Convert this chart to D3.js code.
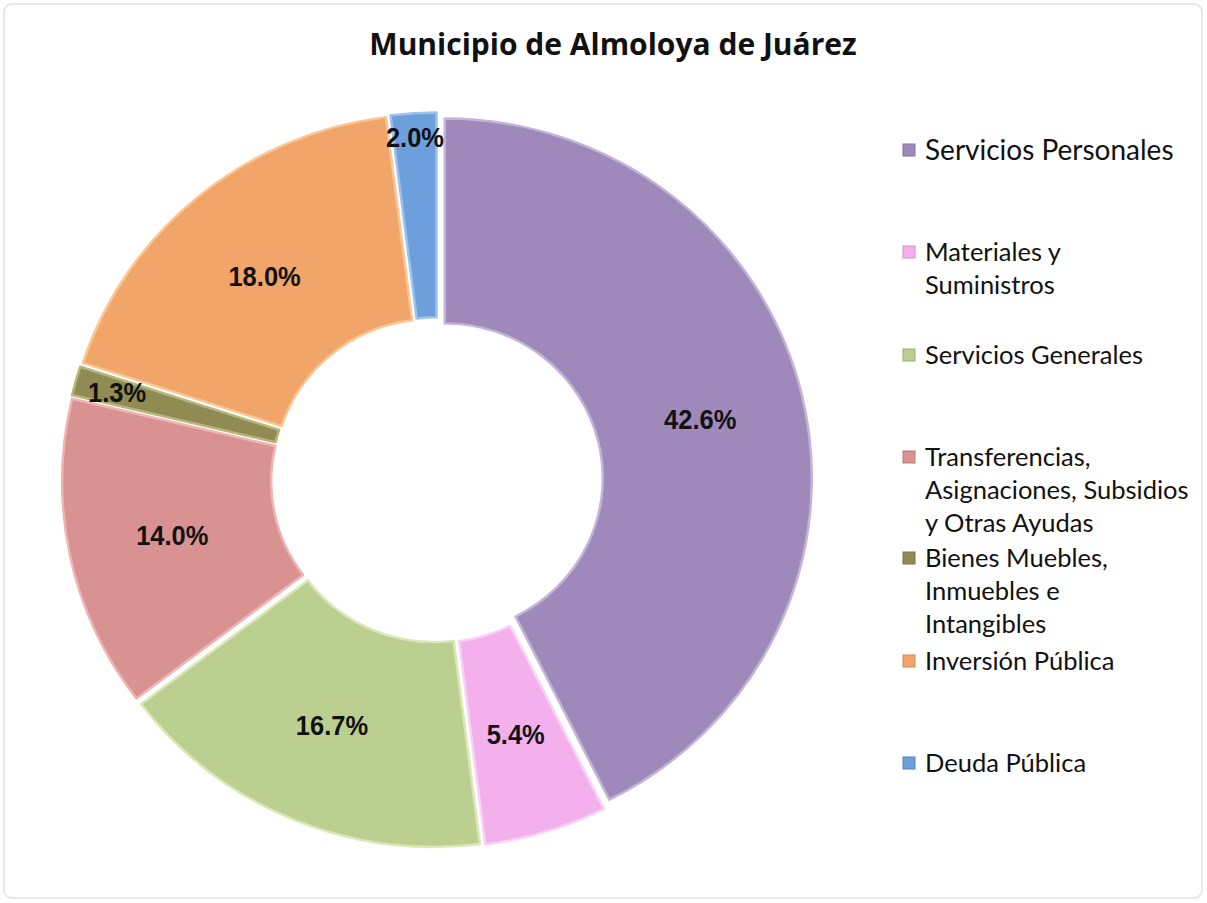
<!DOCTYPE html>
<html><head><meta charset="utf-8">
<script src="https://cdn.jsdelivr.net/npm/d3@7"></script>
<style>body{margin:0;background:#fff;}svg{display:block;}</style>
</head><body>
<svg id="chart" width="1207" height="903"></svg>
<script>
const categories = ["Servicios Personales","Materiales y Suministros","Servicios Generales","Transferencias, Asignaciones, Subsidios y Otras Ayudas","Bienes Muebles, Inmuebles e Intangibles","Inversión Pública","Deuda Pública"];
const legendLines = [["Servicios Personales"],["Materiales y","Suministros"],["Servicios Generales"],["Transferencias,","Asignaciones, Subsidios","y Otras Ayudas"],["Bienes Muebles,","Inmuebles e","Intangibles"],["Inversión Pública"],["Deuda Pública"]];
const values = [42.6, 5.4, 16.7, 14.0, 1.3, 18.0, 2.0];
const colors = ["#9f88ba","#f3b0ec","#bbcf90","#d89292","#8f8b52","#f1a569","#6c9fdb"];
const strokes = ["#c4b3d9","#fad0f5","#d9e8b5","#f0b4b4","#b8b47a","#fcc693","#9cc2ee"];
const title = "Municipio de Almoloya de Juárez";

const svg = d3.select("#chart");
svg.append("rect").attr("x",4).attr("y",4).attr("width",1198).attr("height",894).attr("rx",8)
  .attr("fill","#fff").attr("stroke","#e2e2e2").attr("stroke-width",1.5);

svg.append("text").attr("x",613).attr("y",55).attr("text-anchor","middle")
  .attr("font-family","Open Sans, sans-serif").attr("font-weight","bold").attr("font-size",30)
  .attr("fill","#111").text(title);

const cx = 437, cy = 480, R = 367, r = 158, explode = 8, sy = 0.98;
const pie = d3.pie().sort(null).value(d=>d);
const arcs = pie(values);
const arc = d3.arc().innerRadius(r).outerRadius(R);
const labelArc = d3.arc().innerRadius((R+r)/2).outerRadius((R+r)/2);

const g = svg.append("g").attr("transform",`translate(${cx},${cy})`);
const off = a => { const m=(a.startAngle+a.endAngle)/2; return [explode*Math.sin(m), -explode*Math.cos(m)]; };

g.append("g").attr("transform",`scale(1,${sy})`)
  .selectAll("path.slice").data(arcs).join("path").attr("class","slice")
  .attr("transform",d=>{const o=off(d);return `translate(${o[0]},${o[1]})`;})
  .attr("d",arc).attr("fill",(d,i)=>colors[i]).attr("stroke",(d,i)=>strokes[i]).attr("stroke-width",2.5)
  .attr("stroke-linejoin","round");

const fs = 25.5;
g.selectAll("text.lbl").data(arcs).join("text").attr("class","lbl")
  .attr("text-anchor","middle").attr("dy","0.36em")
  .attr("font-family","Liberation Sans, Arial, sans-serif").attr("font-weight","bold").attr("font-size",fs)
  .attr("fill","#111").text(d=>d.data.toFixed(1)+"%")
  .each(function(d){
    const o = off(d), m = (d.startAngle+d.endAngle)/2;
    let c;
    if (d.data < 3) {
      const w = this.getComputedTextLength(), h = fs*0.8;
      const ext = Math.abs(Math.sin(m))*w/2 + Math.abs(Math.cos(m))*h/2;
      const rr = R - 12 - ext;
      c = [rr*Math.sin(m), -rr*Math.cos(m)];
    } else c = labelArc.centroid(d);
    d3.select(this).attr("transform",`translate(${c[0]+o[0]},${(c[1]+o[1])*sy}) scale(1,1.12)`);
  });

const legendY = [150,252,355,457,558,661,763];
const lg = svg.append("g");
legendLines.forEach((lines,i)=>{
  const y = legendY[i];
  lg.append("rect").attr("x",903).attr("y",y-6).attr("width",12).attr("height",12)
    .attr("fill",colors[i]).attr("stroke",d3.color(colors[i]).darker(0.5)).attr("stroke-width",1);
  lines.forEach((t,j)=>{
    lg.append("text").attr("x",925).attr("y",y+j*33).attr("dy","0.35em")
      .attr("font-family","Lato, sans-serif").attr("font-size",i===0?28:25.5).attr("fill","#111").text(t);
  });
});
</script>
</body></html>
